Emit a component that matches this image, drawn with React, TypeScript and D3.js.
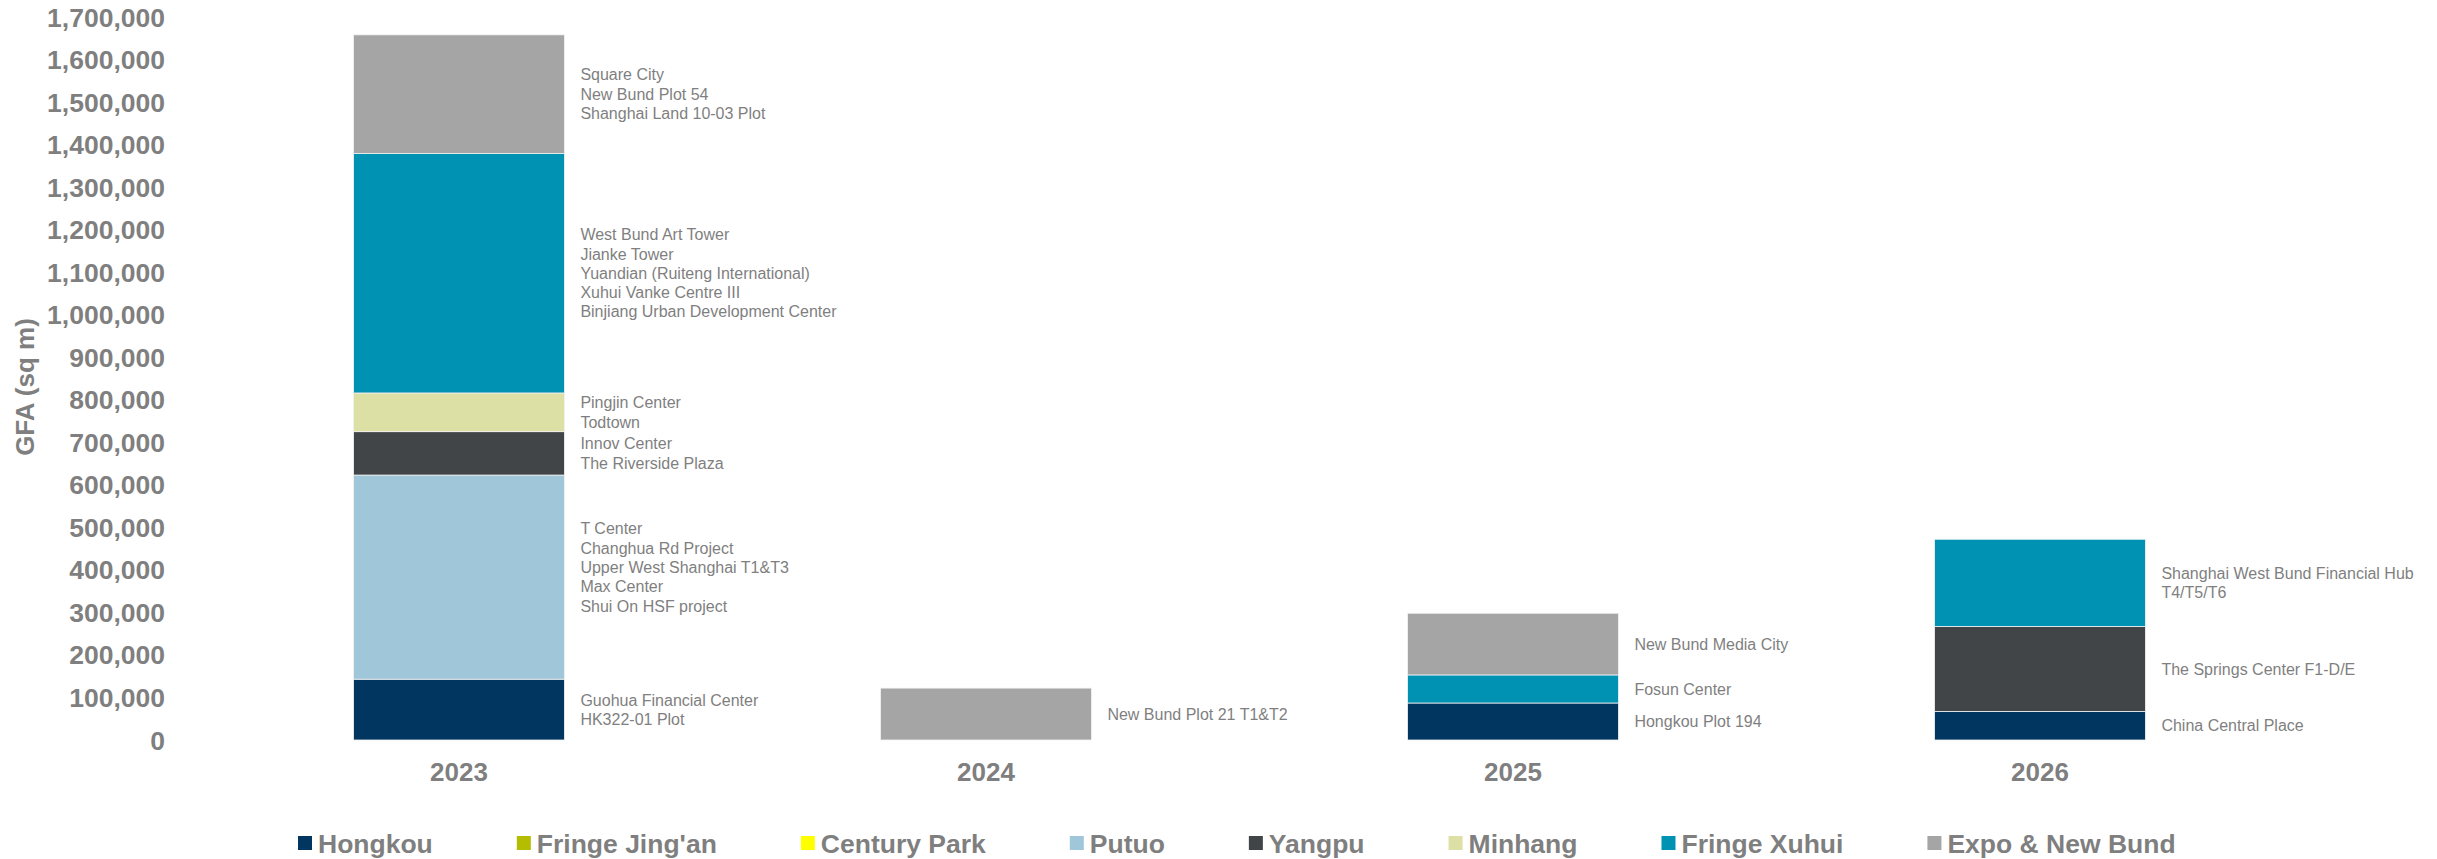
import React from 'react';
import * as d3 from 'd3';

const years = ['2023', '2024', '2025', '2026'];
const seriesNames = ['Hongkou', "Fringe Jing'an", 'Century Park', 'Putuo', 'Yangpu', 'Minhang', 'Fringe Xuhui', 'Expo & New Bund'];
const seriesColors = ['#003660', '#B5BD00', '#FFFF00', '#A0C6DA', '#414547', '#DCE0A5', '#0092B3', '#A5A5A5'];

const hongkou = [143000, 0, 87000, 67000];
const fringeJingan = [0, 0, 0, 0];
const centuryPark = [0, 0, 0, 0];
const putuo = [480000, 0, 0, 0];
const yangpu = [102000, 0, 0, 200000];
const minhang = [91000, 0, 0, 0];
const fringeXuhui = [563000, 0, 66000, 205000];
const expoNewBund = [279000, 122000, 145000, 0];

const yTicks = [0, 100000, 200000, 300000, 400000, 500000, 600000, 700000, 800000, 900000, 1000000, 1100000, 1200000, 1300000, 1400000, 1500000, 1600000, 1700000];

// project names by year, per series (same order as seriesNames)
const labels2023 = [
  ['Guohua Financial Center', 'HK322-01 Plot'],
  [],
  [],
  ['T Center', 'Changhua Rd Project', 'Upper West Shanghai T1&T3', 'Max Center', 'Shui On HSF project', ''],
  ['Innov Center', 'The Riverside Plaza'],
  ['Pingjin Center', 'Todtown'],
  ['West Bund Art Tower', 'Jianke Tower', 'Yuandian (Ruiteng International)', 'Xuhui Vanke Centre III', 'Binjiang Urban Development Center'],
  ['Square City', 'New Bund Plot 54', 'Shanghai Land 10-03 Plot'],
];
const labels2024 = [[], [], [], [], [], [], [], ['New Bund Plot 21 T1&T2']];
const labels2025 = [['Hongkou Plot 194'], [], [], [], [], [], ['Fosun Center'], ['New Bund Media City']];
const labels2026 = [['China Central Place'], [], [], [], ['The Springs Center F1-D/E'], [], ['Shanghai West Bund Financial Hub', 'T4/T5/T6'], []];

const seriesValues = [hongkou, fringeJingan, centuryPark, putuo, yangpu, minhang, fringeXuhui, expoNewBund];
const yearLabels = [labels2023, labels2024, labels2025, labels2026];

const FONT = "'Liberation Sans', Arial, Helvetica, sans-serif";
const GREY = '#7F7F7F';

let _ctx: CanvasRenderingContext2D | null = null;
function measure(text: string, font: string): number {
  if (!_ctx) _ctx = document.createElement('canvas').getContext('2d');
  if (!_ctx) return text.length * 14;
  _ctx.font = font;
  return _ctx.measureText(text).width;
}

export default function App() {
  const W = 2437;
  const H = 859;

  const x = d3.scaleBand<string>().domain(years).range([195.5, 2303.5]).paddingInner(0.6).paddingOuter(0.3);
  const y = d3.scaleLinear().domain([0, 1700000]).range([740, 17]);

  const rows = years.map((yr, i) => {
    const r: any = { year: yr };
    seriesNames.forEach((s, j) => (r[s] = seriesValues[j][i]));
    return r;
  });
  const stacked = d3.stack<any>().keys(seriesNames)(rows);

  const bw = x.bandwidth();
  const lineH = 19.3;

  // legend layout
  const legendFont = `bold 26.5px ${FONT}`;
  let lx = 298;
  const legendItems = seriesNames.map((name, i) => {
    const item = { name, color: seriesColors[i], x: lx };
    lx += 14 + 6 + measure(name, legendFont) + 84;
    return item;
  });

  return (
    <svg width={W} height={H} style={{ position: 'absolute', left: 0, top: 0, background: '#fff' }} fontFamily={FONT}>
      {/* y axis tick labels */}
      {yTicks.map((t) => (
        <text key={t} x={165} y={y(t)} dy="0.36em" textAnchor="end" fontSize={26.5} fontWeight="bold" fill={GREY}>
          {d3.format(',')(t)}
        </text>
      ))}
      <text
        transform={`translate(25,387) rotate(-90)`}
        textAnchor="middle"
        dy="0.36em"
        fontSize={26}
        fontWeight="bold"
        fill={GREY}
      >
        GFA (sq m)
      </text>

      {/* bars */}
      {stacked.map((layer, si) => (
        <g key={layer.key} fill={seriesColors[si]}>
          {layer.map((d, i) => {
            const h = y(d[0]) - y(d[1]);
            if (h <= 0) return null;
            return (
              <rect
                key={i}
                x={x(years[i])!}
                y={y(d[1])}
                width={bw}
                height={h}
                stroke="#F2F2F2"
                strokeWidth={0.8}
              />
            );
          })}
        </g>
      ))}

      {/* project labels */}
      {stacked.map((layer, si) =>
        layer.map((d, i) => {
          const lines = yearLabels[i][si];
          if (!lines || lines.length === 0 || d[1] - d[0] <= 0) return null;
          const cy = (y(d[0]) + y(d[1])) / 2;
          const top = cy - ((lines.length - 1) * lineH) / 2;
          return (
            <text key={`${si}-${i}`} x={x(years[i])! + bw + 16} fontSize={16} fill={GREY}>
              {lines.map((ln, k) => (
                <tspan key={k} x={x(years[i])! + bw + 16} y={top + k * lineH} dy="0.35em">
                  {ln}
                </tspan>
              ))}
            </text>
          );
        })
      )}

      {/* x axis category labels */}
      {years.map((yr) => (
        <text key={yr} x={x(yr)! + bw / 2} y={772} dy="0.36em" textAnchor="middle" fontSize={26} fontWeight="bold" fill={GREY}>
          {yr}
        </text>
      ))}

      {/* legend */}
      {legendItems.map((it) => (
        <g key={it.name}>
          <rect x={it.x} y={836} width={14} height={14} fill={it.color} />
          <text x={it.x + 20} y={843} dy="0.36em" fontSize={26.5} fontWeight="bold" fill={GREY}>
            {it.name}
          </text>
        </g>
      ))}
    </svg>
  );
}
